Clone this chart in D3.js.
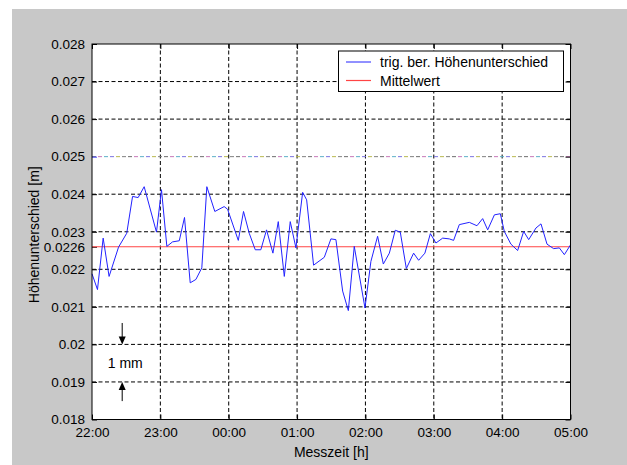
<!DOCTYPE html>
<html>
<head>
<meta charset="utf-8">
<script src="https://cdn.jsdelivr.net/npm/d3@7"></script>
<style>
  html, body { margin: 0; padding: 0; background: #fff; }
  svg { display: block; font-family: "Liberation Sans", Arial, sans-serif; }
  .axis text { font-size: 13.5px; fill: #000; }
  .axis .domain { display: none; }
  .grid line { stroke: #000; stroke-dasharray: 4,2.5; stroke-width: 1; }
</style>
</head>
<body>
<div id="chart"></div>
<script>
// Measured height difference over one night (22:00 - 05:00), MATLAB-style plot.

// minutes after 22:00 for each measurement
const minutesAfter22 = [
  0, 4.8, 9.8, 15, 23.3, 30.5, 35.6, 40.5, 45.8, 56.6,
  61, 65.7, 70.7, 76.6, 81.2, 86.2, 91.2, 96.4, 100.8, 107.8,
  116, 119, 128.4, 133, 138, 143.3, 148.2, 153.2, 158.8, 163.5,
  168.8, 174, 179, 184.9, 188.4, 194.5, 203.9, 209.7, 214.1, 220,
  225, 230.2, 239.6, 244.8, 250.7, 255.7, 261, 266.2, 270.6, 275.9,
  282.3, 286.7, 292.2, 297, 301.9, 307.8, 313.6, 317.4, 322.4, 331.2,
  337.9, 342.9, 347.3, 353.2, 358.4, 361.9, 367.7, 373.6, 378.9, 383.3,
  389.7, 394.1, 399.4, 405.2, 410.2, 414.6, 420
];

// trig. ber. Höhenunterschied [m]
const heightDiff = [
  0.02188, 0.02146, 0.02283, 0.02181, 0.02259, 0.02296, 0.02394, 0.02391, 0.02420, 0.02299,
  0.02412, 0.02261, 0.02273, 0.02276, 0.02338, 0.02164, 0.02173, 0.02204, 0.02420, 0.02354,
  0.02367, 0.02360, 0.02277, 0.02354, 0.02296, 0.02252, 0.02252, 0.02305, 0.02243, 0.02327,
  0.02181, 0.02327, 0.02257, 0.02405, 0.02385, 0.02211, 0.02232, 0.02281, 0.02279, 0.02142,
  0.02090, 0.02261, 0.02097, 0.02221, 0.02288, 0.02214, 0.02243, 0.02304, 0.02299, 0.02202,
  0.02243, 0.02224, 0.02243, 0.02295, 0.02270, 0.02283, 0.02281, 0.02277, 0.02319, 0.02325,
  0.02316, 0.02335, 0.02305, 0.02345, 0.02348, 0.02301, 0.02267, 0.02250, 0.02301, 0.02279,
  0.02310, 0.02321, 0.02267, 0.02255, 0.02257, 0.02239, 0.02265
];

const meanValue = 0.0226;

const yTicks = [0.018, 0.019, 0.02, 0.021, 0.022, 0.0226, 0.023, 0.024, 0.025, 0.026, 0.027, 0.028];
const yTickLabels = ["0.018", "0.019", "0.02", "0.021", "0.022", "0.0226", "0.023", "0.024", "0.025", "0.026", "0.027", "0.028"];
const yGrid = [0.019, 0.02, 0.021, 0.022, 0.023, 0.024, 0.026, 0.027];
const xTickLabels = ["22:00", "23:00", "00:00", "01:00", "02:00", "03:00", "04:00", "05:00"];

const legendLabels = ["trig. ber. Höhenunterschied", "Mittelwert"];
const COLORS = { data: "#2222ff", mean: "#ff4444" };

const W = 627, H = 465;
const margin = { top: 44, right: 56.5, bottom: 45.5, left: 92 };
const width = W - margin.left - margin.right;
const height = H - margin.top - margin.bottom;

const t0 = new Date(2000, 0, 1, 22, 0);
const t1 = new Date(2000, 0, 2, 5, 0);
const toDate = m => new Date(t0.getTime() + m * 60000);

const data = minutesAfter22.map((m, i) => ({ date: toDate(m), value: heightDiff[i] }));

const root = d3.select("#chart").append("svg")
  .attr("width", W)
  .attr("height", H);

// grey figure background
root.append("rect")
  .attr("x", 12).attr("y", 9)
  .attr("width", W - 12).attr("height", H - 9)
  .attr("fill", "#c8c8c8");

const svg = root.append("g")
  .attr("transform", `translate(${margin.left},${margin.top})`);

const x = d3.scaleTime().domain([t0, t1]).range([0, width]);
const y = d3.scaleLinear().domain([0.018, 0.028]).range([height, 0]);

svg.append("rect")
  .attr("width", width).attr("height", height)
  .attr("fill", "#fff");

const xTicks = d3.timeHour.range(t0, d3.timeHour.offset(t1, 1));

// dashed grid
const grid = svg.append("g").attr("class", "grid");
grid.selectAll(".gx")
  .data(xTicks.slice(1, -1))
  .enter().append("line")
  .attr("x1", d => x(d)).attr("x2", d => x(d))
  .attr("y1", 0).attr("y2", height);
grid.selectAll(".gy")
  .data(yGrid)
  .enter().append("line")
  .attr("x1", 0).attr("x2", width)
  .attr("y1", d => y(d)).attr("y2", d => y(d));

// the 0.025 grid line shows up with coloured dashes in the original
const fringe = ["#6e6e6e", "#c878b8", "#5cb0c8", "#7c74e0", "#b8b850", "#808080"];
fringe.forEach((c, i) => {
  svg.append("line")
    .attr("x1", 0).attr("x2", width)
    .attr("y1", y(0.025)).attr("y2", y(0.025))
    .attr("stroke", c)
    .attr("stroke-dasharray", "4,32")
    .attr("stroke-dashoffset", -i * 6);
});

// axes with inward ticks
const yLabel = d3.scaleOrdinal().domain(yTicks).range(yTickLabels);
const xLabel = d3.scaleOrdinal().domain(xTicks.map(d => +d)).range(xTickLabels);

svg.append("g")
  .attr("class", "axis")
  .call(d3.axisLeft(y).tickValues(yTicks).tickFormat(d => yLabel(d))
    .tickSizeInner(-5).tickSizeOuter(0).tickPadding(7))
  .call(g => g.selectAll(".tick line").attr("stroke", d => d === 0.025 ? "#4040ff" : "#000"));

svg.append("g")
  .attr("class", "axis")
  .attr("transform", `translate(${width},0)`)
  .call(d3.axisRight(y).tickValues(yTicks.filter(d => d !== 0.0226)).tickFormat("")
    .tickSizeInner(-5).tickSizeOuter(0));

svg.append("g")
  .attr("class", "axis")
  .attr("transform", `translate(0,${height})`)
  .call(d3.axisBottom(x).tickValues(xTicks).tickFormat(d => xLabel(+d))
    .tickSizeInner(-5).tickSizeOuter(0).tickPadding(8));

svg.append("g")
  .attr("class", "axis")
  .call(d3.axisTop(x).tickValues(xTicks).tickFormat("")
    .tickSizeInner(-5).tickSizeOuter(0));

// mean line
svg.append("line")
  .attr("x1", 0).attr("x2", width)
  .attr("y1", y(meanValue)).attr("y2", y(meanValue))
  .attr("stroke", COLORS.mean)
  .attr("stroke-width", 1.2);

// measurement series
const line = d3.line().x(d => x(d.date)).y(d => y(d.value));
svg.append("path")
  .datum(data)
  .attr("fill", "none")
  .attr("stroke", COLORS.data)
  .attr("stroke-width", 1)
  .attr("d", line);

// axes box
svg.append("rect")
  .attr("width", width).attr("height", height)
  .attr("fill", "none")
  .attr("stroke", "#000")
  .attr("stroke-width", 1);

// "1 mm" annotation with arrows
const ax = x(toDate(26.5));
function arrow(from, to) {
  const y1 = y(from), y2 = y(to);
  const dir = y2 > y1 ? 1 : -1;
  svg.append("line")
    .attr("x1", ax).attr("x2", ax)
    .attr("y1", y1).attr("y2", y2 - dir * 6)
    .attr("stroke", "#000");
  svg.append("path")
    .attr("d", `M${ax - 3.5},${y2 - dir * 8} L${ax + 3.5},${y2 - dir * 8} L${ax},${y2} Z`)
    .attr("fill", "#000");
}
arrow(0.02057, 0.020);
arrow(0.01849, 0.019);

svg.append("text")
  .attr("x", x(toDate(29.2)))
  .attr("y", y(0.0195) + 5)
  .attr("text-anchor", "middle")
  .attr("font-size", 14)
  .text("1 mm");

// axis titles
svg.append("text")
  .attr("transform", `translate(${39 - margin.left},${height / 2 + 3}) rotate(-90)`)
  .attr("text-anchor", "middle")
  .attr("font-size", 14)
  .text("Höhenunterschied [m]");

svg.append("text")
  .attr("x", width / 2)
  .attr("y", height + 37)
  .attr("text-anchor", "middle")
  .attr("font-size", 14)
  .text("Messzeit [h]");

// legend
const legend = svg.append("g")
  .attr("transform", `translate(${width - 232},7)`);
legend.append("rect")
  .attr("width", 225).attr("height", 40.5)
  .attr("fill", "#fff")
  .attr("stroke", "#000");
legendLabels.forEach((label, i) => {
  const ly = 11 + i * 18.5;
  legend.append("line")
    .attr("x1", 7.5).attr("x2", 32.5)
    .attr("y1", ly).attr("y2", ly)
    .attr("stroke", i === 0 ? COLORS.data : COLORS.mean)
    .attr("stroke-width", i === 0 ? 1 : 1.2);
  legend.append("text")
    .attr("x", 41.5).attr("y", ly + 5)
    .attr("font-size", 14)
    .text(label);
});
</script>
</body>
</html>
